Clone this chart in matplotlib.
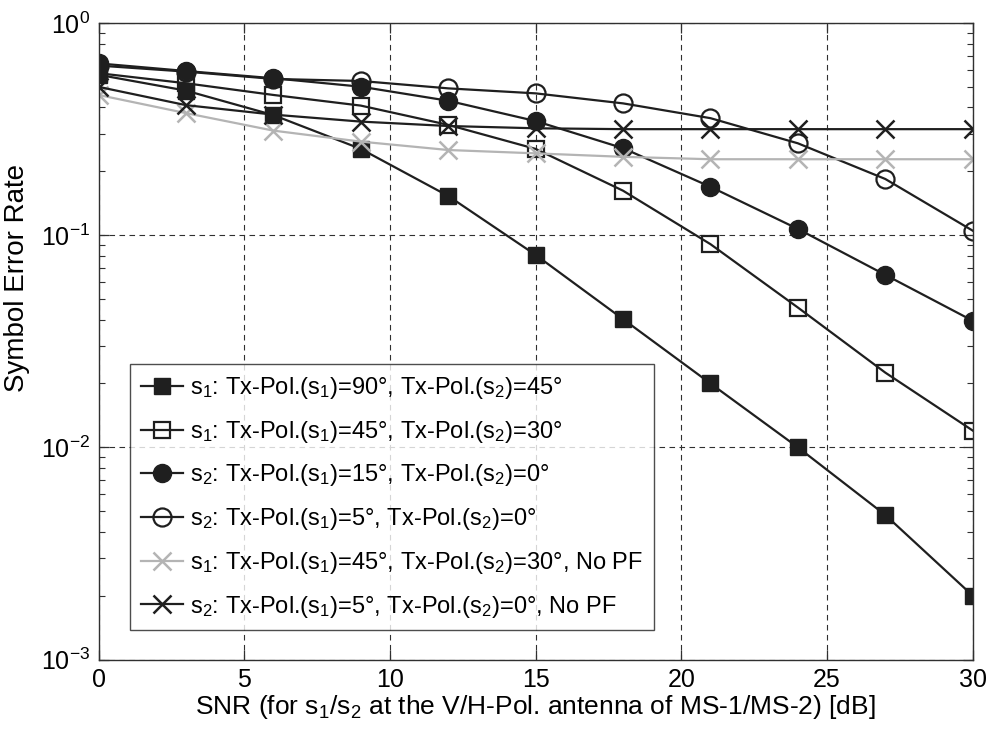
import matplotlib
matplotlib.use("Agg")
import matplotlib.pyplot as plt
from matplotlib.ticker import LogLocator, NullFormatter, NullLocator

plt.rcParams['font.family'] = ['Liberation Sans', 'DejaVu Sans']
plt.rcParams['mathtext.fontset'] = 'custom'
plt.rcParams['mathtext.rm'] = 'Liberation Sans'
plt.rcParams['mathtext.it'] = 'Liberation Sans:italic'
plt.rcParams['mathtext.bf'] = 'Liberation Sans:bold'
plt.rcParams['mathtext.default'] = 'regular'

# SNR grid [dB]
snr = [0, 3, 6, 9, 12, 15, 18, 21, 24, 27, 30]

# Symbol error rates per configuration
ser_s1_90_45 = [0.57, 0.48, 0.368, 0.255, 0.153, 0.0807, 0.0402, 0.020, 0.0100, 0.0048, 0.0020]
ser_s1_45_30 = [0.58, 0.52, 0.458, 0.408, 0.331, 0.255, 0.162, 0.0907, 0.0456, 0.0225, 0.0120]
ser_s2_15_0 = [0.645, 0.594, 0.549, 0.501, 0.430, 0.345, 0.257, 0.169, 0.107, 0.065, 0.0395]
ser_s2_5_0 = [0.63, 0.59, 0.545, 0.533, 0.492, 0.466, 0.418, 0.356, 0.271, 0.184, 0.105]
ser_s1_45_30_nopf = [0.458, 0.376, 0.311, 0.276, 0.252, 0.243, 0.234, 0.228, 0.228, 0.228, 0.228]
ser_s2_5_0_nopf = [0.50, 0.41, 0.37, 0.343, 0.327, 0.319, 0.316, 0.316, 0.316, 0.316, 0.316]

labels = [
    r's$_1$: Tx-Pol.(s$_1$)=90°, Tx-Pol.(s$_2$)=45°',
    r's$_1$: Tx-Pol.(s$_1$)=45°, Tx-Pol.(s$_2$)=30°',
    r's$_2$: Tx-Pol.(s$_1$)=15°, Tx-Pol.(s$_2$)=0°',
    r's$_2$: Tx-Pol.(s$_1$)=5°, Tx-Pol.(s$_2$)=0°',
    r's$_1$: Tx-Pol.(s$_1$)=45°, Tx-Pol.(s$_2$)=30°, No PF',
    r's$_2$: Tx-Pol.(s$_1$)=5°, Tx-Pol.(s$_2$)=0°, No PF',
]

xticks = [0, 5, 10, 15, 20, 25, 30]

black = '#1f1f1f'
gray = '#b4b4b4'

fig = plt.figure(figsize=(9.95, 7.35), dpi=100)
ax = fig.add_axes([0.0991, 0.1027, 0.8785, 0.866])

lw = 1.6
ax.plot(snr, ser_s1_90_45, '-s', color=black, mfc=black, mec=black, ms=12, lw=lw, label=labels[0])
ax.plot(snr, ser_s1_45_30, '-s', color=black, mfc='none', mec=black, ms=12, mew=1.6, lw=lw, label=labels[1])
ax.plot(snr, ser_s2_15_0, '-o', color=black, mfc=black, mec=black, ms=13, lw=lw, label=labels[2])
ax.plot(snr, ser_s2_5_0, '-o', color=black, mfc='none', mec=black, ms=13, mew=1.6, lw=lw, label=labels[3])
ax.plot(snr, ser_s1_45_30_nopf, '-x', color=gray, mec=gray, ms=13, mew=1.8, lw=lw, label=labels[4])
ax.plot(snr, ser_s2_5_0_nopf, '-x', color=black, mec=black, ms=13, mew=1.8, lw=lw, label=labels[5])

ax.set_yscale('log')
ax.set_xlim(0, 30)
ax.set_ylim(1e-3, 1)
ax.set_xticks(xticks)
ax.set_xticklabels([str(t) for t in xticks])
ax.yaxis.set_major_locator(LogLocator(base=10, numticks=10))
ax.yaxis.set_minor_locator(LogLocator(base=10, subs=range(2, 10), numticks=10))
ax.yaxis.set_minor_formatter(NullFormatter())
ax.xaxis.set_minor_locator(NullLocator())

ax.grid(True, which='major', linestyle=(0, (5, 4)), color='#303030', lw=0.8)
ax.tick_params(which='both', direction='in', top=True, right=True, labelsize=18, color='#303030')
ax.tick_params(which='major', length=7, width=0.9, pad=6)
ax.tick_params(which='minor', length=4, width=0.8)
for sp in ax.spines.values():
    sp.set_linewidth(1.0)
    sp.set_color('#303030')

ax.set_xlabel(r'SNR (for s$_1$/s$_2$ at the V/H-Pol. antenna of MS-1/MS-2) [dB]', fontsize=19, labelpad=1)
ax.set_ylabel('Symbol Error Rate', fontsize=20)
ax.yaxis.set_label_coords(-0.078, 0.6)

leg = ax.legend(loc='lower left', bbox_to_anchor=(0.036, 0.046), borderaxespad=0,
                fontsize=17, frameon=True, fancybox=False, edgecolor='#202020',
                handlelength=1.8, handletextpad=0.3, labelspacing=0.75, borderpad=0.45)
leg.get_frame().set_linewidth(1.0)

fig.savefig('out.png', dpi=100)
